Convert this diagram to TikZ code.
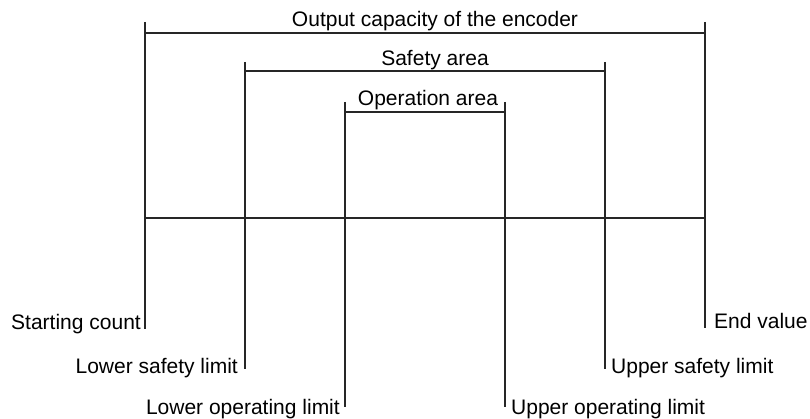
\documentclass[tikz,border=0pt]{standalone}
\usepackage{fontspec}
\setmainfont{Liberation Sans}
\usetikzlibrary{positioning}

\begin{document}
\begin{tikzpicture}[x=1pt,y=-1pt,
  bar/.style={line width=1.2pt,black!85},
  lbl/.style={inner sep=0pt,font=\fontsize{21}{25}\selectfont}]
\useasboundingbox (0,0) rectangle (810,419);
% outer bracket
\coordinate (sctop) at (145,22);
\coordinate (scbar) at (145,33);
\coordinate (scmid) at (145,218);
\coordinate (sc) at (145,329);
\coordinate (evtop) at (705,22);
\coordinate (evbar) at (705,33);
\coordinate (evmid) at (705,218);
\coordinate (ev) at (705,328);
% safety bracket
\coordinate (lstop) at (245,62);
\coordinate (lsbar) at (245,71);
\coordinate (ls) at (245,369);
\coordinate (ustop) at (605,62);
\coordinate (usbar) at (605,71);
\coordinate (us) at (605,369);
% operation bracket
\coordinate (lotop) at (345,102);
\coordinate (lobar) at (345,112);
\coordinate (lo) at (345,407);
\coordinate (uotop) at (505,102);
\coordinate (uobar) at (505,112);
\coordinate (uo) at (505,407);

\draw[bar] (sctop) -- (sc);
\draw[bar] (evtop) -- (ev);
\draw[bar] (lstop) -- (ls);
\draw[bar] (ustop) -- (us);
\draw[bar] (lotop) -- (lo);
\draw[bar] (uotop) -- (uo);
\draw[bar] (scbar) -- (evbar);
\draw[bar] (lsbar) -- (usbar);
\draw[bar] (lobar) -- (uobar);
\draw[bar] (scmid) -- (evmid);

\node[lbl,anchor=base] (outcap) at (435,27) {Output capacity of the encoder};
\node[lbl,anchor=base] (safe) at (435,66) {Safety area};
\node[lbl,anchor=base] (oper) at (428,106) {Operation area};

\node[lbl,base left=4pt of sc] (sclbl) {Starting count};
\node[lbl,base right=9pt of ev] (evlbl) {End value};
\node[lbl,base left=7pt of ls,yshift=-4pt] (lslbl) {Lower safety limit};
\node[lbl,base right=6pt of us,yshift=-4pt] (uslbl) {Upper safety limit};
\node[lbl,base left=5pt of lo,yshift=-7pt] (lolbl) {Lower operating limit};
\node[lbl,base right=6pt of uo,yshift=-7pt] (uolbl) {Upper operating limit};
\end{tikzpicture}
\end{document}
